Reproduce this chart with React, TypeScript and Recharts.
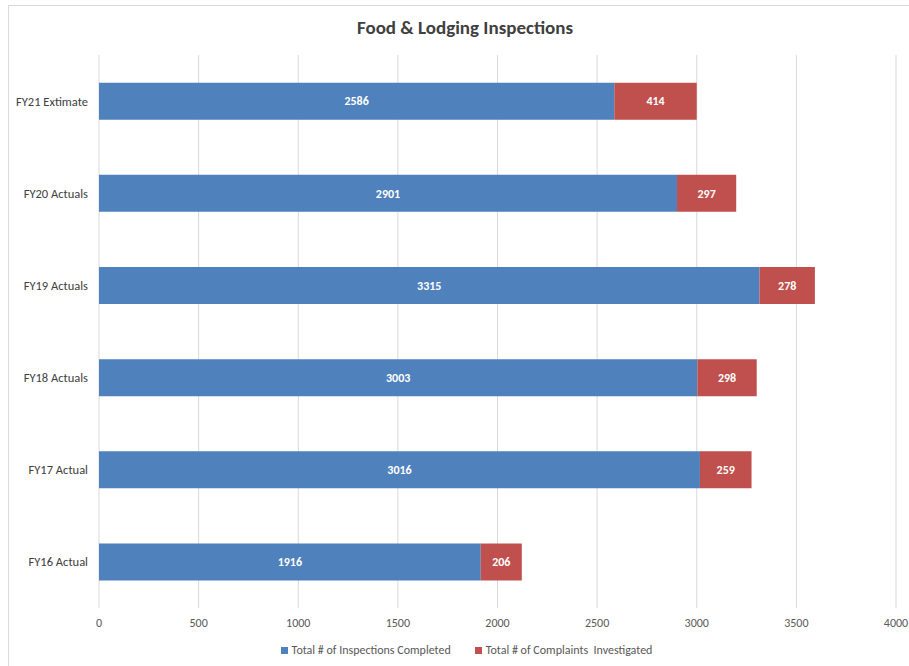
// Food & Lodging inspections, stacked horizontal bars (recharts).

import { BarChart, Bar, XAxis, YAxis, CartesianGrid, Legend, LabelList } from "recharts"

const categories = ["FY21 Extimate", "FY20 Actuals", "FY19 Actuals", "FY18 Actuals", "FY17 Actual", "FY16 Actual"]
const inspections = [2586, 2901, 3315, 3003, 3016, 1916]
const complaints = [414, 297, 278, 298, 259, 206]
const xTicks = [0, 500, 1000, 1500, 2000, 2500, 3000, 3500, 4000]

const data = categories.map((name, i) => ({
  name,
  inspections: inspections[i],
  complaints: complaints[i],
}))

const SERIES = [
  { key: "inspections", label: "Total # of Inspections Completed", color: "#4f81bd" },
  { key: "complaints", label: "Total # of Complaints  Investigated", color: "#c0504d" },
]

const FONT = "Carlito, 'Open Sans', 'Liberation Sans', sans-serif"

function LegendBox() {
  return (
    <div
      style={{
        display: "flex",
        justifyContent: "center",
        gap: 24,
        fontSize: 12,
        color: "#595959",
        fontFamily: FONT,
        width: 909,
        paddingLeft: 24,
        boxSizing: "border-box",
      }}
    >
      {SERIES.map((s) => (
        <span key={s.key} style={{ display: "inline-flex", alignItems: "center", gap: 4, whiteSpace: "pre" }}>
          <span style={{ width: 7, height: 7, background: s.color, display: "inline-block" }} />
          {s.label}
        </span>
      ))}
    </div>
  )
}

export default function App() {
  return (
    <div
      style={{
        position: "fixed",
        left: 0,
        top: 0,
        width: 909,
        height: 666,
        background: "#fff",
        fontFamily: FONT,
      }}
    >
      <style>{"html,body{margin:0;overflow:hidden}"}</style>
      {/* Rahmen des Diagramms */}
      <div
        style={{
          position: "absolute",
          left: 8,
          top: 5,
          width: 901,
          height: 661,
          borderLeft: "1px solid #d9d9d9",
          borderTop: "1px solid #d9d9d9",
        }}
      />
      <div
        style={{
          position: "absolute",
          top: 16,
          left: 0,
          width: 930,
          textAlign: "center",
          fontSize: 19,
          fontWeight: 700,
          color: "#404040",
        }}
      >
        Food &amp; Lodging Inspections
      </div>
      <BarChart
        width={909}
        height={666}
        data={data}
        layout="vertical"
        barCategoryGap="30%"
        margin={{ top: 55, right: 13, left: 0, bottom: 14 }}
        style={{ position: "absolute", left: 0, top: 0 }}
      >
        <CartesianGrid horizontal={false} stroke="#d9d9d9" />
        <XAxis
          type="number"
          domain={[0, 4000]}
          ticks={xTicks}
          axisLine={false}
          tickLine={false}
          tick={{ fontSize: 12, fill: "#595959", fontFamily: FONT }}
          tickMargin={4}
          height={30}
        />
        <YAxis
          type="category"
          dataKey="name"
          width={99}
          axisLine={false}
          tickLine={false}
          tick={{ fontSize: 12.5, fill: "#404040", fontFamily: FONT }}
          tickMargin={5}
        />
        <Legend verticalAlign="bottom" content={() => <LegendBox />} wrapperStyle={{ bottom: 9, left: 0, width: 909 }} />
        <Bar dataKey="inspections" name={SERIES[0].label} stackId="a" fill={SERIES[0].color} isAnimationActive={false}>
          <LabelList dataKey="inspections" position="center" fill="#fff" fontSize={12} fontWeight={700} fontFamily={FONT} />
        </Bar>
        <Bar dataKey="complaints" name={SERIES[1].label} stackId="a" fill={SERIES[1].color} isAnimationActive={false}>
          <LabelList dataKey="complaints" position="center" fill="#fff" fontSize={12} fontWeight={700} fontFamily={FONT} />
        </Bar>
      </BarChart>
    </div>
  )
}
